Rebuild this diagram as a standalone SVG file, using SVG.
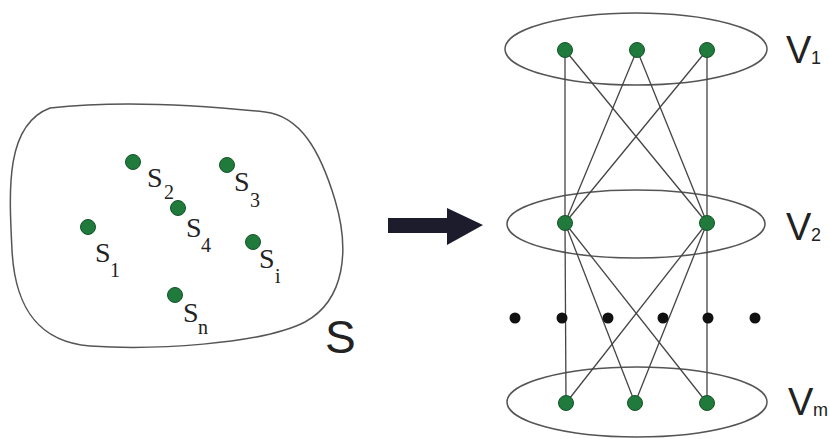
<svg xmlns="http://www.w3.org/2000/svg" width="830" height="439" viewBox="0 0 830 439">
<style>
.grp{fill:none;stroke:#555;stroke-width:1.5}
.pt{fill:#1f7a3c;stroke:#145228;stroke-width:1}
.edge{stroke:#444;stroke-width:1.3;fill:none}
.lbl{font-family:"Liberation Serif",serif;font-size:28px;fill:#222}
.sub{font-family:"Liberation Serif",serif;font-size:20px;fill:#222}
.big{font-family:"Liberation Sans",sans-serif;font-size:46px;fill:#222}
.vl{font-family:"Liberation Sans",sans-serif;font-size:38px;fill:#222}
.vs{font-family:"Liberation Sans",sans-serif;font-size:18px;fill:#222}
.dot{fill:#111}
</style>
<rect width="830" height="439" fill="#fff"/>
<g id="setS">
<path class="grp" d="M50,108 C120,100 200,105 265,112 C300,116 320,150 335,200 C350,250 345,300 305,322 C260,345 150,350 90,346 C40,342 15,310 12,250 C9,190 5,125 50,108 Z"/>
<text class="big" x="325" y="353">S</text>
</g>
<g id="s2"><circle class="pt" cx="133" cy="162" r="7.5"/><text class="lbl" x="147" y="187">S</text><text class="sub" x="164" y="199">2</text></g>
<g id="s3"><circle class="pt" cx="227" cy="165" r="7.5"/><text class="lbl" x="234" y="191">S</text><text class="sub" x="250" y="207">3</text></g>
<g id="s4"><circle class="pt" cx="178" cy="208" r="7.5"/><text class="lbl" x="186" y="237">S</text><text class="sub" x="201" y="252">4</text></g>
<g id="s1"><circle class="pt" cx="88" cy="227" r="7.5"/><text class="lbl" x="95" y="262">S</text><text class="sub" x="110" y="277">1</text></g>
<g id="si"><circle class="pt" cx="253" cy="242" r="7.5"/><text class="lbl" x="259" y="268">S</text><text class="sub" x="275" y="283">i</text></g>
<g id="sn"><circle class="pt" cx="175" cy="295" r="7.5"/><text class="lbl" x="183" y="322">S</text><text class="sub" x="198" y="334">n</text></g>
<g id="arrow">
<path fill="#1c1c2c" d="M388,218 L447,218 L447,208 L483,225 L447,245 L447,233 L388,233 Z"/>
</g>
<g id="layers">
<ellipse class="grp" cx="636" cy="49" rx="131" ry="36"/>
<ellipse class="grp" cx="636" cy="224" rx="129" ry="34"/>
<ellipse class="grp" cx="637" cy="402" rx="130" ry="35"/>
<text class="vl" x="786" y="63">V</text><text class="vs" x="811" y="64">1</text>
<text class="vl" x="786" y="240">V</text><text class="vs" x="811" y="241">2</text>
<text class="vl" x="788" y="415">V</text><text class="vs" x="813" y="416">m</text>
</g>
<g id="connectors">
<line class="edge" x1="565" y1="50" x2="565" y2="223"/>
<line class="edge" x1="565" y1="50" x2="707" y2="223"/>
<line class="edge" x1="637" y1="50" x2="565" y2="223"/>
<line class="edge" x1="637" y1="50" x2="707" y2="223"/>
<line class="edge" x1="707" y1="50" x2="565" y2="223"/>
<line class="edge" x1="707" y1="50" x2="707" y2="223"/>
<line class="edge" x1="565" y1="223" x2="566" y2="403"/>
<line class="edge" x1="565" y1="223" x2="635" y2="403"/>
<line class="edge" x1="565" y1="223" x2="707" y2="403"/>
<line class="edge" x1="707" y1="223" x2="566" y2="403"/>
<line class="edge" x1="707" y1="223" x2="635" y2="403"/>
<line class="edge" x1="707" y1="223" x2="707" y2="403"/>
</g>
<g id="v1a"><circle class="pt" cx="565" cy="50" r="7.5"/></g>
<g id="v1b"><circle class="pt" cx="637" cy="50" r="7.5"/></g>
<g id="v1c"><circle class="pt" cx="707" cy="50" r="7.5"/></g>
<g id="v2a"><circle class="pt" cx="565" cy="223" r="7.5"/></g>
<g id="v2b"><circle class="pt" cx="707" cy="223" r="7.5"/></g>
<g id="vma"><circle class="pt" cx="566" cy="403" r="7.5"/></g>
<g id="vmb"><circle class="pt" cx="635" cy="403" r="7.5"/></g>
<g id="vmc"><circle class="pt" cx="707" cy="403" r="7.5"/></g>
<g id="ellipsis">
<circle class="dot" cx="515" cy="318" r="5.5"/>
<circle class="dot" cx="562" cy="318" r="5.5"/>
<circle class="dot" cx="608" cy="318" r="5.5"/>
<circle class="dot" cx="663" cy="318" r="5.5"/>
<circle class="dot" cx="708" cy="318" r="5.5"/>
<circle class="dot" cx="755" cy="318" r="5.5"/>
</g>
</svg>
